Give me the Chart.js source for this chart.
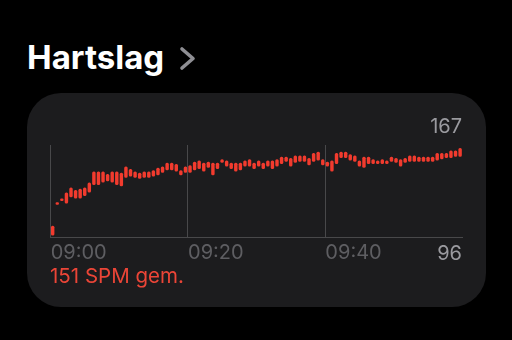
<!DOCTYPE html>
<html>
<head>
<meta charset="utf-8">
<script src="https://cdn.jsdelivr.net/npm/chart.js@4.4.1/dist/chart.umd.min.js"></script>
<style>
  html, body { margin: 0; padding: 0; background: #000; width: 512px; height: 340px; overflow: hidden; font-family: Inter, "Noto Sans", sans-serif; }
  .title { position: absolute; left: 27px; top: 41px; font-size: 33px; line-height: 33px; font-weight: 700; color: #fff; }
  .chev { position: absolute; left: 178px; top: 46px; }
  .card { position: absolute; left: 27px; top: 93px; width: 459px; height: 214px; border-radius: 34px; background: #1c1c1e; }
  #wrap { position: absolute; left: 40px; top: 135px; width: 430px; height: 134px; }
  .num { position: absolute; right: 50px; font-size: 20px; line-height: 20px; color: #9a9a9f; }
  .avg { position: absolute; left: 50px; top: 266px; font-size: 20.5px; line-height: 20px; color: #eb4537; }
</style>
</head>
<body>
<div class="title">Hartslag</div>
<svg class="chev" width="20" height="26"><polyline points="4,3 15,12.5 4,22" fill="none" stroke="#8e8e93" stroke-width="3.6" stroke-linecap="round" stroke-linejoin="round"/></svg>
<div class="card"></div>
<div id="wrap"><canvas id="hr" width="430" height="134"></canvas></div>
<div class="num" id="maxLabel" style="top:116px"></div>
<div class="num" id="minLabel" style="top:243px"></div>
<div class="avg" id="avgLabel"></div>
<script>
// heart rate per 40 second bin, 09:00 - 10:00
const lows = [96, 121, 124, 122, 127, 126, 126, 128, 131, 137,
  137, 139, 140, 139, 137, 136, 143, 144, 143, 142,
  143, 143, 144, 145, 147, 149, 149, 148, 145, 147,
  147, 149, 150, 148, 151, 145, 150, 155, 152, 150,
  148, 149, 152, 152, 150, 152, 150, 152, 150, 152,
  154, 156, 152, 155, 156, 156, 153, 156, 157, 153,
  152, 148, 154, 159, 159, 157, 156, 152, 151, 154,
  154, 154, 154, 154, 156, 155, 152, 155, 156, 156,
  156, 156, 156, 156, 157, 158, 159, 159, 160, 160];
const highs = [104, 123, 126, 131, 135, 133, 134, 135, 139, 148,
  148, 148, 146, 148, 148, 147, 152, 150, 148, 147,
  148, 148, 149, 151, 152, 155, 155, 154, 149, 152,
  153, 156, 157, 155, 156, 155, 155, 158, 157, 155,
  155, 155, 157, 158, 155, 157, 155, 157, 157, 158,
  160, 160, 159, 161, 161, 161, 159, 163, 164, 158,
  156, 157, 163, 164, 164, 162, 161, 157, 160, 160,
  158, 157, 158, 157, 160, 159, 158, 159, 161, 161,
  160, 160, 160, 160, 163, 163, 163, 165, 165, 167];
const tickLabels = ['09:00', '09:20', '09:40'];
const avgBpm = 151;

const barColor = '#f23b2e';
const gridColor = '#48484a';

// one category per 40 s bin
const bins = lows.map((v, i) => {
  const s = i * 40;
  const m = Math.floor(s / 60);
  return '09:' + String(m).padStart(2, '0') + ':' + String(s % 60).padStart(2, '0');
});

document.getElementById('maxLabel').textContent = Math.max(...highs);
document.getElementById('minLabel').textContent = Math.min(...lows);
document.getElementById('avgLabel').textContent = avgBpm + ' SPM gem.';

new Chart(document.getElementById('hr'), {
  type: 'bar',
  data: {
    labels: bins,
    datasets: [{
      data: lows.map((lo, i) => [lo, highs[i]]),
      backgroundColor: barColor,
      borderRadius: 1.5,
      borderSkipped: false,
      barPercentage: 0.75,
      categoryPercentage: 1
    }]
  },
  options: {
    responsive: false,
    animation: false,
    layout: { padding: { left: 10.4, right: 7.6, top: 10, bottom: 0 } },
    plugins: { legend: { display: false }, tooltip: { enabled: false } },
    scales: {
      x: {
        grid: {
          offset: true,
          drawTicks: false,
          color: ctx => (ctx.index % 30 === 0 && ctx.index < bins.length) ? gridColor : 'transparent'
        },
        border: { display: true, color: gridColor, width: 1 },
        ticks: {
          autoSkip: false,
          maxRotation: 0,
          minRotation: 0,
          align: 'start',
          padding: 4,
          labelOffset: -2,
          color: '#5e5e62',
          font: { family: 'Inter', size: 20 },
          callback: (v, i) => i % 30 === 0 ? tickLabels[i / 30] : ''
        }
      },
      y: { display: false, min: 94.8, max: 169.5 }
    }
  }
});
</script>
</body>
</html>
